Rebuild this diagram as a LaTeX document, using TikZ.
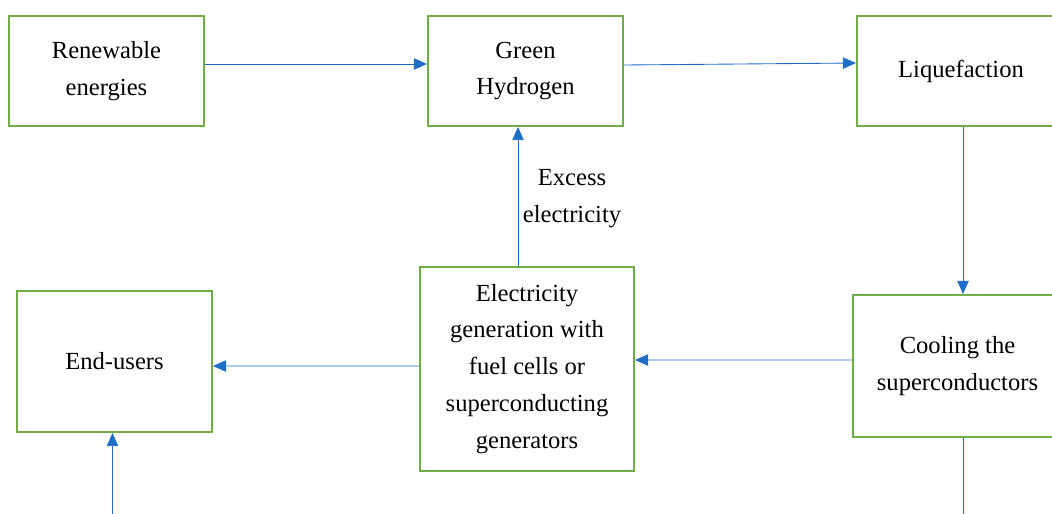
\documentclass[tikz,border=0pt]{standalone}
\usepackage{fontspec}
\setmainfont{Liberation Serif}
\usepackage{xcolor}
\usepackage{tikz}
\usetikzlibrary{arrows.meta}

\definecolor{boxgreen}{RGB}{112,173,71}
\definecolor{flowblue}{RGB}{31,110,198}

\begin{document}
\begin{tikzpicture}[
    x=0.02cm, y=-0.02cm,
    every node/.style={font=\fontsize{14}{21}\selectfont, align=center},
    block/.style={rectangle, draw=boxgreen, line width=1.1pt, inner sep=2pt},
    flow/.style={->, >={Triangle[length=7.5pt,width=6.5pt]}, draw=flowblue, line width=0.5pt}
]
\useasboundingbox (0,0) rectangle (1052,514);
\clip (0,0) rectangle (1052,514);

\node[block, minimum width=3.9cm, minimum height=2.2cm] (Renew) at (106.5,71) {Renewable\\energies};
\node[block, minimum width=3.9cm, minimum height=2.2cm] (Hydro) at (525.5,71) {Green\\Hydrogen};
\node[block, minimum width=4.16cm, minimum height=2.2cm] (Liquef) at (961,71) {Liquefaction};

\node[block, minimum width=3.9cm, minimum height=2.82cm] (EndUsr) at (114.5,361.5) {End-users};
\node[block, minimum width=4.28cm, minimum height=4.08cm] (ElecGen) at (527,369) {Electricity\\generation with\\fuel cells or\\superconducting\\generators};
\node[block, minimum width=4.18cm, minimum height=2.84cm] (Cooling) at (957.5,366) {Cooling the\\superconductors};

\node (Excess) at (572,199) {Excess\\electricity};

\coordinate (CoolOut) at (963,520);
\coordinate (EndIn) at (112.5,520);

\draw[flow] ([yshift=0.14cm]Renew.east) -- ([yshift=0.14cm]Hydro.west);
\draw[flow] ([yshift=0.12cm]Hydro.east) -- ([yshift=0.16cm]Liquef.west);
\draw[flow] ([xshift=0.04cm]Liquef.south) -- ([xshift=0.04cm]Liquef.south |- Cooling.north);
\draw[flow] ([yshift=0.12cm]Cooling.west) -- ([yshift=0.18cm]ElecGen.east);
\draw[flow] ([yshift=0.06cm]ElecGen.west) -- ([yshift=-0.09cm]EndUsr.east);
\draw[flow] ([xshift=-0.18cm]ElecGen.north) -- ([xshift=-0.18cm]ElecGen.north |- Hydro.south);
\draw[flow, -] (CoolOut |- Cooling.south) -- (CoolOut);
\draw[flow] (EndIn) -- (EndIn |- EndUsr.south);

\end{tikzpicture}
\end{document}
